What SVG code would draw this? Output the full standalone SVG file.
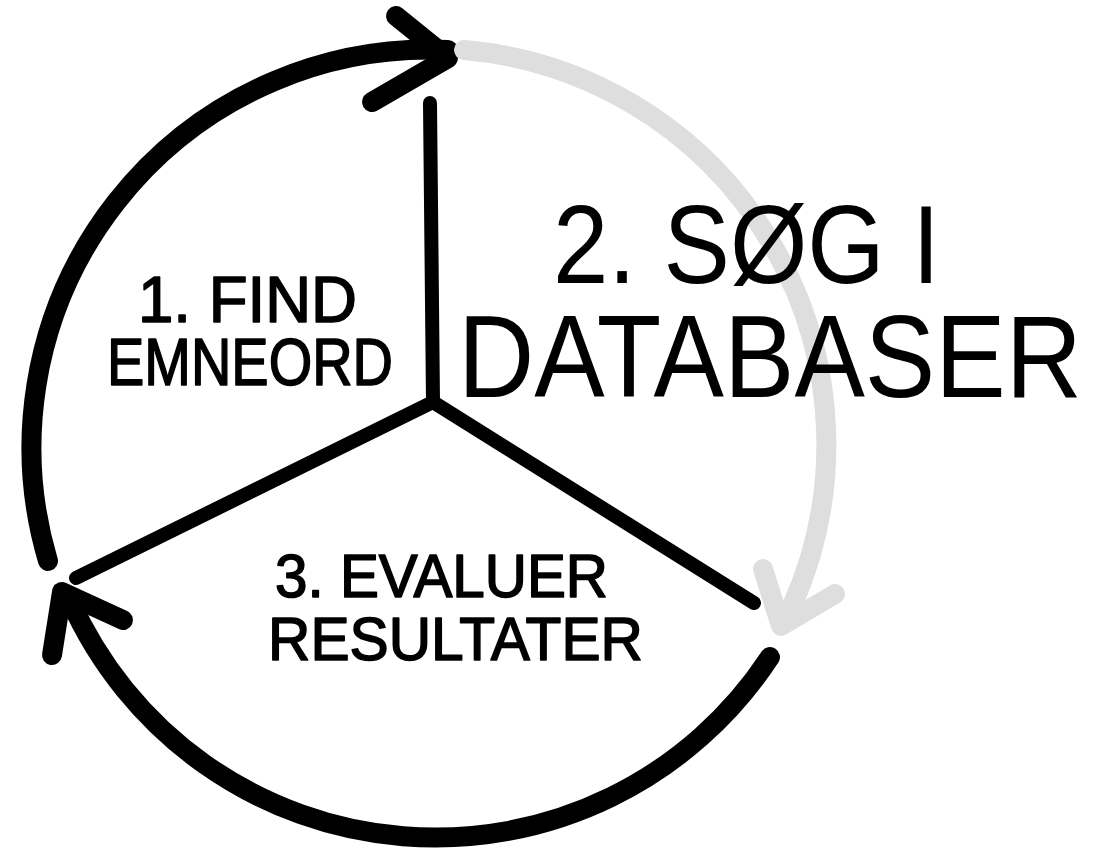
<svg xmlns="http://www.w3.org/2000/svg" width="1099" height="857" viewBox="0 0 1099 857">
<style>
.arc{fill:none;stroke:#000;stroke-width:20;stroke-linecap:round;stroke-linejoin:round}
.grey{stroke:#dedede}
.spoke{fill:none;stroke:#000;stroke-width:14;stroke-linecap:round}
.lbl{font-family:"Liberation Sans",Arial,sans-serif;fill:#000}
.sm{stroke:#000;stroke-width:1.6;stroke-linejoin:round}
</style>
<rect width="1099" height="857" fill="#fff"/>
<g id="connectors">
<path class="arc" d="M 48 561 A 398 398 0 0 1 448 50"/>
<polyline class="arc" points="396,16 448,58 372,102"/>
<path class="arc grey" d="M 464 50 A 396 396 0 0 1 792 606"/>
<polyline class="arc grey" points="763,569 781,626 835,594"/>
<path class="arc" d="M 770 657 A 400 400 0 0 1 70 600"/>
<polyline class="arc" stroke-width="22" points="123,620 62,592 52,655"/>
<path class="spoke" d="M 430 103 L 433 402"/>
<path class="spoke" d="M 433 402 L 76 578"/>
<path class="spoke" stroke-width="16" d="M 433 402 L 754 603"/>
</g>
<g id="node-find">
<text class="lbl sm" x="138" y="322" font-size="64" textLength="219" lengthAdjust="spacingAndGlyphs">1. FIND</text>
<text class="lbl sm" x="107" y="385" font-size="67" textLength="286" lengthAdjust="spacingAndGlyphs">EMNEORD</text>
</g>
<g id="node-search">
<text class="lbl" x="553" y="283" font-size="112" textLength="387" lengthAdjust="spacingAndGlyphs">2. SØG I</text>
<text class="lbl" x="458" y="397" font-size="116" textLength="624" lengthAdjust="spacingAndGlyphs">DATABASER</text>
</g>
<g id="node-evaluate">
<text class="lbl sm" x="275" y="597" font-size="61" textLength="333" lengthAdjust="spacingAndGlyphs">3. EVALUER</text>
<text class="lbl sm" x="268" y="660" font-size="62" textLength="375" lengthAdjust="spacingAndGlyphs">RESULTATER</text>
</g>
</svg>
